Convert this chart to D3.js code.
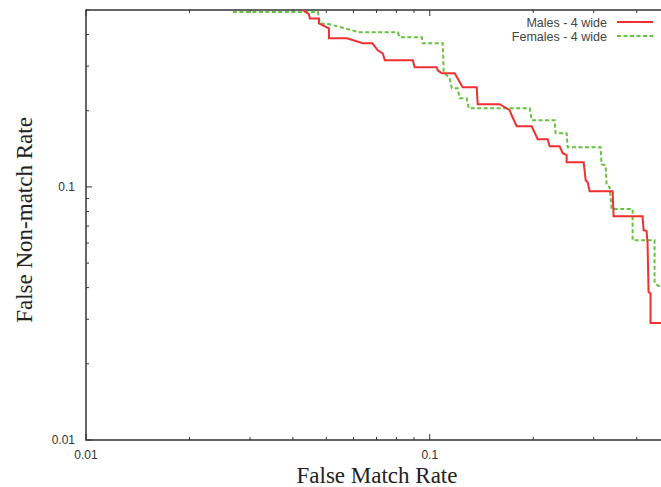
<!DOCTYPE html>
<html>
<head>
<meta charset="utf-8">
<script src="https://cdn.jsdelivr.net/npm/d3@7"></script>
<style>
    body { margin: 0; background: #fff; overflow: hidden; }
    .tick-label { font-family: 'Liberation Sans', Arial, sans-serif; font-size: 12px; fill: #333; }
    .title { font-family: 'Liberation Serif', 'Times New Roman', serif; font-size: 23px; fill: #222; }
    .legend { font-family: 'Liberation Sans', Arial, sans-serif; font-size: 12.5px; fill: #444; }
</style>
</head>
<body>
<div class="content"></div>
<script>
// males - 4 wide (FMR, FNMR step points)
var maleFMR = [0.0427, 0.0445, 0.0448, 0.0476, 0.0476, 0.0509, 0.0509, 0.0574, 0.0639, 0.0681,
    0.0706, 0.0730, 0.0740, 0.0893, 0.0904, 0.1048, 0.1055, 0.1084, 0.1182, 0.1247,
    0.1370, 0.1379, 0.1598, 0.1708, 0.1731, 0.1790, 0.1980, 0.2061, 0.2203, 0.2233,
    0.2387, 0.2436, 0.2502, 0.2502, 0.2804, 0.2842, 0.2880, 0.2919, 0.3404, 0.3427,
    0.4161, 0.4189, 0.4273, 0.4302, 0.4331, 0.4389, 0.4389, 0.5]
var maleFNMR = [0.5, 0.481, 0.463, 0.463, 0.443, 0.423, 0.3865, 0.3865, 0.3693, 0.3693,
    0.3465, 0.337, 0.3163, 0.3163, 0.2969, 0.2969, 0.2889, 0.2811, 0.2811, 0.2475,
    0.2475, 0.2121, 0.2121, 0.2009, 0.1919, 0.1736, 0.1736, 0.1543, 0.1543, 0.1448,
    0.1448, 0.1359, 0.1334, 0.1252, 0.1252, 0.1063, 0.1043, 0.0962, 0.0962, 0.0766,
    0.0766, 0.0675, 0.067, 0.06, 0.0384, 0.038, 0.029, 0.029]

// females - 4 wide
var femaleFMR = [0.02675, 0.0473, 0.0479, 0.0512, 0.0626, 0.0807, 0.0818, 0.0948, 0.0954, 0.1091,
    0.1098, 0.1143, 0.1159, 0.1206, 0.1222, 0.1281, 0.1298, 0.1953, 0.1980, 0.2309,
    0.2324, 0.2502, 0.2519, 0.3141, 0.3162, 0.3248, 0.3270, 0.3337, 0.3382, 0.3892,
    0.3892, 0.4509, 0.4509, 0.4631, 0.5]
var femaleFNMR = [0.491, 0.491, 0.443, 0.4388, 0.408, 0.408, 0.39, 0.39, 0.3693, 0.3693,
    0.2837, 0.2686, 0.2453, 0.2453, 0.224, 0.224, 0.2045, 0.2045, 0.1834, 0.1834,
    0.1629, 0.1629, 0.1435, 0.1435, 0.1229, 0.1218, 0.1016, 0.0997, 0.0817, 0.0817,
    0.0616, 0.0616, 0.0417, 0.0406, 0.0406]

var majorTicks = [0.01, 0.1]
var minorTicks = [0.02, 0.03, 0.04, 0.05, 0.06, 0.07, 0.08, 0.09, 0.2, 0.3, 0.4, 0.5]
var legendLabels = ['Males - 4 wide', 'Females - 4 wide']

var width = 661
var height = 487
var margin = { top: 10, right: -9, bottom: 47, left: 86 }

var x = d3.scaleLog()
    .domain([0.01, 0.5])
    .range([margin.left, width - margin.right])

var y = d3.scaleLog()
    .domain([0.01, 0.5])
    .range([height - margin.bottom, margin.top])

var svg = d3.select('.content').append('svg')
    .attr('width', width)
    .attr('height', height)

var axisColor = '#333'

// ticks (inward, mirrored on top)
var allTicks = majorTicks.concat(minorTicks)
var g = svg.append('g').attr('class', 'ticks')
allTicks.forEach(function(t) {
    var len = majorTicks.indexOf(t) >= 0 ? 6 : 3
    g.append('line')
        .attr('x1', x(t)).attr('x2', x(t))
        .attr('y1', y(0.01)).attr('y2', y(0.01) - len)
        .style('stroke', axisColor).style('stroke-width', 1)
    g.append('line')
        .attr('x1', x(t)).attr('x2', x(t))
        .attr('y1', y(0.5)).attr('y2', y(0.5) + len)
        .style('stroke', axisColor).style('stroke-width', 1)
    g.append('line')
        .attr('x1', x(0.01)).attr('x2', x(0.01) + len)
        .attr('y1', y(t)).attr('y2', y(t))
        .style('stroke', axisColor).style('stroke-width', 1)
})

// border
svg.append('path')
    .attr('d', 'M' + x(0.5) + ',' + y(0.5) + 'H' + x(0.01) + 'V' + y(0.01) + 'H' + x(0.5))
    .style('fill', 'none')
    .style('stroke', axisColor)
    .style('stroke-width', 1.5)

// tick labels
majorTicks.forEach(function(t) {
    svg.append('text')
        .attr('class', 'tick-label')
        .attr('x', x(t))
        .attr('y', y(0.01) + 19)
        .attr('text-anchor', 'middle')
        .text(t)
    svg.append('text')
        .attr('class', 'tick-label')
        .attr('x', x(0.01) - 11)
        .attr('y', y(t) + 4)
        .attr('text-anchor', 'end')
        .text(t)
})

// axis titles
svg.append('text')
    .attr('class', 'title')
    .attr('x', 377)
    .attr('y', 483)
    .attr('text-anchor', 'middle')
    .text('False Match Rate')

svg.append('text')
    .attr('class', 'title')
    .attr('transform', 'translate(32,220) rotate(-90)')
    .attr('text-anchor', 'middle')
    .text('False Non-match Rate')

var line = d3.line()
    .x(function(d) { return x(d[0]) })
    .y(function(d) { return y(d[1]) })

var males = maleFMR.map(function(v, i) { return [v, maleFNMR[i]] })
var females = femaleFMR.map(function(v, i) { return [v, femaleFNMR[i]] })

var styles = [
    { color: '#f03030', dash: null },
    { color: '#66c23f', dash: '4,2.5' }
]

svg.append('path')
    .datum(females)
    .attr('d', line)
    .style('fill', 'none')
    .style('stroke', styles[1].color)
    .style('stroke-width', 2)
    .style('stroke-dasharray', styles[1].dash)

svg.append('path')
    .datum(males)
    .attr('d', line)
    .style('fill', 'none')
    .style('stroke', styles[0].color)
    .style('stroke-width', 2)

// legend
legendLabels.forEach(function(label, i) {
    var ly = 22 + i * 14
    svg.append('text')
        .attr('class', 'legend')
        .attr('x', 607)
        .attr('y', ly + 4.5)
        .attr('text-anchor', 'end')
        .text(label)
    svg.append('line')
        .attr('x1', 617).attr('x2', 653)
        .attr('y1', ly).attr('y2', ly)
        .style('stroke', styles[i].color)
        .style('stroke-width', 2)
        .style('stroke-dasharray', styles[i].dash)
})
</script>
</body>
</html>
